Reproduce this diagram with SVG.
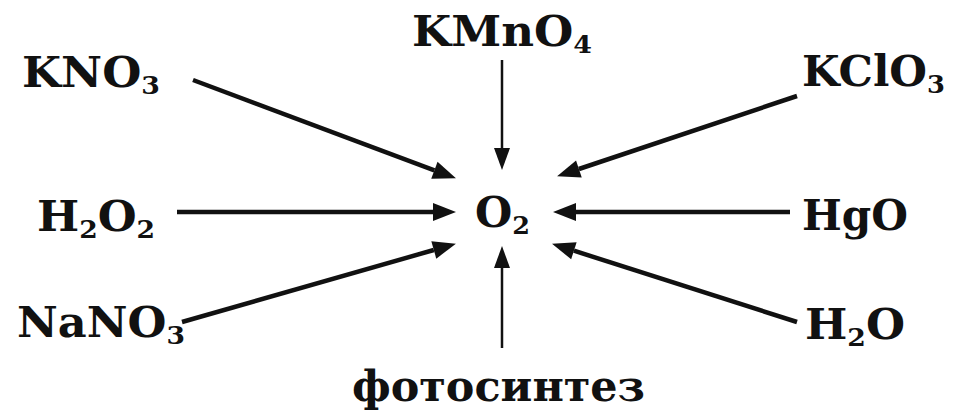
<svg xmlns="http://www.w3.org/2000/svg" width="955" height="418" viewBox="0 0 955 418">
<defs>
<style>
.lbl{font-family:"DejaVu Serif","Liberation Serif",serif;font-weight:bold;font-size:42px;fill:#111}
.sub{font-size:25px}
.thick{stroke:#111;stroke-width:4.5;fill:none}
.thin{stroke:#111;stroke-width:2.5;fill:none}
</style>
<marker id="ah" markerUnits="userSpaceOnUse" markerWidth="30" markerHeight="30" refX="0" refY="0" orient="auto" style="overflow:visible">
<path d="M0,-9 L23,0 L0,9 Z" fill="#111"/>
</marker>
<marker id="ahs" markerUnits="userSpaceOnUse" markerWidth="30" markerHeight="30" refX="0" refY="0" orient="auto" style="overflow:visible">
<path d="M0,-8 L22,0 L0,8 Z" fill="#111"/>
</marker>
</defs>
<rect width="955" height="418" fill="#fff"/>
<g id="connectors">
<line class="thick" x1="193" y1="80" x2="434.4" y2="170.3" marker-end="url(#ah)"/>
<line class="thin" x1="502" y1="60" x2="502" y2="148" marker-end="url(#ahs)"/>
<line class="thick" x1="797" y1="96" x2="578.9" y2="169" marker-end="url(#ah)"/>
<line class="thick" x1="177" y1="212" x2="433" y2="212" marker-end="url(#ah)"/>
<line class="thick" x1="790" y1="212" x2="576" y2="212" marker-end="url(#ah)"/>
<line class="thick" x1="182" y1="322" x2="433.8" y2="250" marker-end="url(#ah)"/>
<line class="thick" x1="797" y1="322" x2="573.9" y2="250.7" marker-end="url(#ah)"/>
<line class="thin" x1="502" y1="348" x2="502" y2="268" marker-end="url(#ahs)"/>
</g>
<g id="KMnO4"><text class="lbl" x="412" y="46" textLength="180" lengthAdjust="spacingAndGlyphs">KMnO<tspan class="sub" dy="7">4</tspan></text></g>
<g id="KNO3"><text class="lbl" x="22" y="87" textLength="138" lengthAdjust="spacingAndGlyphs">KNO<tspan class="sub" dy="7">3</tspan></text></g>
<g id="KClO3"><text class="lbl" x="802" y="86" textLength="143" lengthAdjust="spacingAndGlyphs">KClO<tspan class="sub" dy="7">3</tspan></text></g>
<g id="H2O2"><text class="lbl" x="37" y="231" textLength="118" lengthAdjust="spacingAndGlyphs">H<tspan class="sub" dy="7">2</tspan><tspan dy="-7">O</tspan><tspan class="sub" dy="7">2</tspan></text></g>
<g id="O2"><text class="lbl" x="475" y="227" textLength="55" lengthAdjust="spacingAndGlyphs">O<tspan class="sub" dy="7">2</tspan></text></g>
<g id="HgO"><text class="lbl" x="802" y="230" textLength="106" lengthAdjust="spacingAndGlyphs">HgO</text></g>
<g id="NaNO3"><text class="lbl" x="17" y="337" textLength="168" lengthAdjust="spacingAndGlyphs">NaNO<tspan class="sub" dy="7">3</tspan></text></g>
<g id="H2O"><text class="lbl" x="805" y="339" textLength="100" lengthAdjust="spacingAndGlyphs">H<tspan class="sub" dy="7">2</tspan><tspan dy="-7">O</tspan></text></g>
<g id="photosynthesis"><text class="lbl" x="352" y="401" textLength="293" lengthAdjust="spacingAndGlyphs">фотосинтез</text></g>
</svg>
